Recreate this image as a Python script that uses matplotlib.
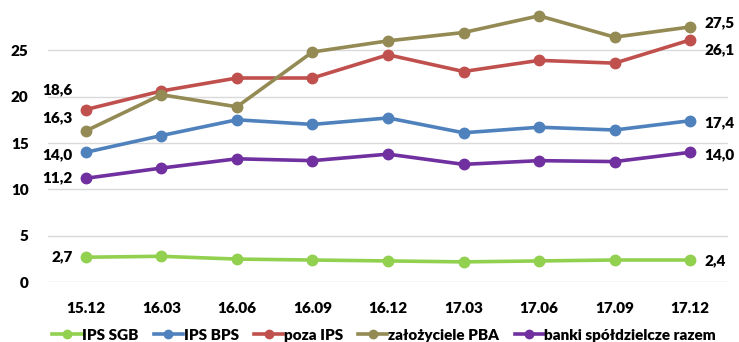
import numpy as np
import matplotlib.pyplot as plt
from matplotlib.lines import Line2D

plt.rcParams['font.family'] = ['Lato', 'DejaVu Sans']

quarters = ["15.12", "16.03", "16.06", "16.09", "16.12", "17.03", "17.06", "17.09", "17.12"]
ips_sgb = [2.7, 2.8, 2.5, 2.4, 2.3, 2.2, 2.3, 2.4, 2.4]
ips_bps = [14.0, 15.8, 17.5, 17.0, 17.7, 16.1, 16.7, 16.4, 17.4]
poza_ips = [18.6, 20.6, 22.0, 22.0, 24.5, 22.7, 23.9, 23.6, 26.1]
zalozyciele_pba = [16.3, 20.2, 18.9, 24.8, 26.0, 26.9, 28.7, 26.4, 27.5]
banki_razem = [11.2, 12.3, 13.3, 13.1, 13.8, 12.7, 13.1, 13.0, 14.0]

series = [
    ("IPS SGB", ips_sgb, "#92D050"),
    ("IPS BPS", ips_bps, "#4F81BD"),
    ("poza IPS", poza_ips, "#C0504D"),
    ("założyciele PBA", zalozyciele_pba, "#948A54"),
    ("banki spółdzielcze razem", banki_razem, "#7030A0"),
]

# label offsets (pixels) for first and last points
left_offsets = {"IPS SGB": 0, "IPS BPS": -2, "poza IPS": 20, "założyciele PBA": 13, "banki spółdzielcze razem": 1}
right_offsets = {"IPS SGB": -1, "IPS BPS": -2, "poza IPS": -10, "założyciele PBA": 4, "banki spółdzielcze razem": -2}

FS = 11
FW = 'heavy'

fig = plt.figure(figsize=(7.39, 3.42), dpi=100)
ax = fig.add_axes([48 / 739, (342 - 282.3) / 342, (728 - 48) / 739, 282.3 / 342])

x = np.arange(len(quarters))
for name, vals, col in series:
    ax.plot(x, vals, color=col, lw=2.6, marker='o', ms=7.5, label=name, zorder=3)
    ax.annotate(f"{vals[0]:.1f}".replace('.', ','), (x[0], vals[0]),
                xytext=(-13, left_offsets[name]), textcoords='offset pixels',
                ha='right', va='center', fontsize=FS, fontweight=FW)
    ax.annotate(f"{vals[-1]:.1f}".replace('.', ','), (x[-1], vals[-1]),
                xytext=(14, right_offsets[name]), textcoords='offset pixels',
                ha='left', va='center', fontsize=FS, fontweight=FW)

ax.set_xlim(-0.5, len(quarters) - 0.5)
ax.set_ylim(0, 30.4)
ax.set_yticks([0, 5, 10, 15, 20, 25])
ax.set_xticks(x)
ax.set_xticklabels(quarters)
ax.grid(axis='y', color='#D9D9D9', lw=1)
ax.set_axisbelow(True)
for s in ax.spines.values():
    s.set_visible(False)
ax.tick_params(length=0, labelsize=FS)
ax.tick_params(axis='x', pad=14)
ax.tick_params(axis='y', pad=14)
for lab in ax.get_xticklabels() + ax.get_yticklabels():
    lab.set_fontweight(FW)

handles = [Line2D([], [], color=col, lw=2.6, marker='o', ms=6) for _, _, col in series]
fig.legend(handles, [s[0] for s in series], loc='center', bbox_to_anchor=(0.52, 0.02),
           ncol=5, frameon=False, handlelength=1.9, handletextpad=0.05, columnspacing=1.0,
           prop={'weight': FW, 'size': FS})

fig.savefig("out.png", dpi=100)
